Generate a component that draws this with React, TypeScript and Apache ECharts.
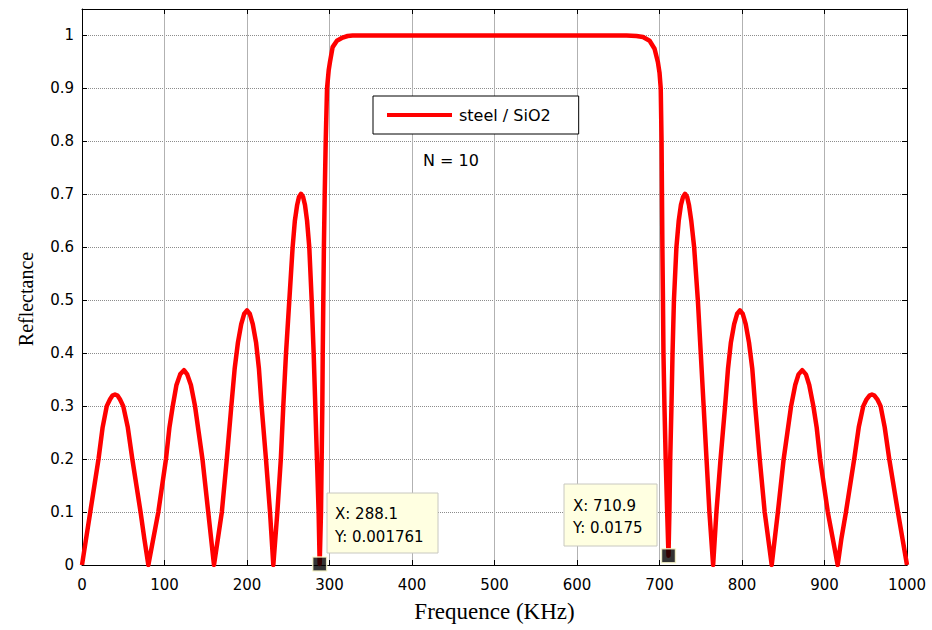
import React, { useEffect, useRef } from "react";
import * as echarts from "echarts";

// Reflectance spectrum of a steel / SiO2 stack, N = 10 periods
const freqKHz = [
  0, 5, 10, 20, 25, 30, 34, 37, 40, 43, 46, 50, 55.5, 61, 71, 75.5, 80.4,
  92.5, 101.8, 106, 110, 114.5, 119, 123.6, 127.5, 132, 137, 141.5, 146, 153, 160,
  169.5, 175.5, 181, 185, 189, 193, 196.5, 200, 203.5, 207, 211, 214.5, 217.7, 223, 227.9, 231.9,
  236.8, 241, 244, 247.3, 251.3, 255.3, 258, 260.8, 263, 265.5, 268, 270.3, 272.8, 275.5, 278.4, 280.8, 282.8, 284.8, 286.8, 288.1,
  289.7, 290.5, 291.3, 291.8, 292.5, 293.2, 294.2, 295.4, 297, 299, 300.6, 303.8, 309, 316, 322, 328,
  400, 500, 600, 660,
  672, 680, 688, 694, 698, 700, 701.5, 702.5, 703, 703.5, 704.2, 704.8, 706, 707.5, 709.3, 710.9,
  712, 713, 714.5, 715.8, 717.5, 720.5, 723.3, 726, 728.5, 731, 733.5, 735.7, 738.5, 742, 746.5, 750, 753.5, 757, 760.5, 765,
  769, 774, 779.5, 783, 786.5, 790.5, 794, 797.5, 801, 804.5, 808.5, 812.5, 816, 821.5, 827.5, 836,
  843.5, 850.5, 855, 859.5, 864.5, 868.5, 873, 877.5, 881.5, 886.5, 890.5, 894.7, 904, 916,
  920.5, 926, 936, 941.5, 947, 951, 954.5, 957.5, 960.5, 964, 968, 973, 978.5, 989, 994.5, 1000,
];

const reflectance = [
  0, 0.05, 0.1, 0.2, 0.26, 0.3, 0.313, 0.32, 0.322, 0.32, 0.313, 0.3, 0.26, 0.2, 0.1, 0.05, 0,
  0.1, 0.2, 0.26, 0.3, 0.34, 0.36, 0.368, 0.36, 0.34, 0.3, 0.25, 0.2, 0.1, 0,
  0.1, 0.2, 0.3, 0.37, 0.42, 0.455, 0.474, 0.481, 0.474, 0.455, 0.42, 0.37, 0.3, 0.2, 0.1, 0,
  0.1, 0.2, 0.3, 0.4, 0.5, 0.6, 0.65, 0.68, 0.695, 0.701, 0.695, 0.68, 0.65, 0.6, 0.5, 0.4, 0.3, 0.2, 0.1, 0.001761,
  0.1, 0.2, 0.3, 0.4, 0.5, 0.6, 0.7, 0.8, 0.9, 0.934, 0.95, 0.978, 0.99, 0.996, 0.999, 1,
  1, 1, 1, 1,
  0.999, 0.997, 0.99, 0.975, 0.95, 0.93, 0.9, 0.8, 0.7, 0.6, 0.5, 0.4, 0.3, 0.2, 0.1, 0.0175,
  0.1, 0.2, 0.3, 0.4, 0.5, 0.6, 0.65, 0.68, 0.695, 0.701, 0.695, 0.68, 0.65, 0.6, 0.5, 0.4, 0.3, 0.2, 0.1, 0,
  0.1, 0.2, 0.3, 0.37, 0.42, 0.455, 0.474, 0.481, 0.474, 0.455, 0.42, 0.37, 0.3, 0.2, 0.1, 0,
  0.1, 0.2, 0.25, 0.3, 0.34, 0.36, 0.368, 0.36, 0.34, 0.3, 0.26, 0.2, 0.1, 0,
  0.05, 0.1, 0.2, 0.26, 0.3, 0.313, 0.32, 0.322, 0.32, 0.313, 0.3, 0.26, 0.2, 0.1, 0.05, 0,
];

// Data cursors placed on the two band-edge minima
const tipFreq = [288.1, 710.9];
const tipRefl = [0.001761, 0.0175];

const seriesName = "steel / SiO2";
const periodsNote = "N = 10";

const X_MIN = 0;
const X_MAX = 1000;
const X_STEP = 100;
const Y_MIN = 0;
const Y_MAX = 1.05;
const Y_STEP = 0.1;

const TICK_FONT = "DejaVu Sans";
const SERIF = "Liberation Serif";

export default function App() {
  const ref = useRef<HTMLDivElement>(null);

  useEffect(() => {
    if (!ref.current) return;
    const chart = echarts.init(ref.current, undefined, { renderer: "svg" });

    const lineData = freqKHz.map((f, i) => [f, reflectance[i]]);
    const tipData = tipFreq.map((f, i) => [f, tipRefl[i]]);

    const tickStyle = { show: true, inside: true, length: 5, lineStyle: { color: "#000", width: 1 } };
    const frameLine = { show: true, onZero: false, lineStyle: { color: "#000", width: 1 } };

    const tipBoxes = [
      { x: 327, y: 493, w: 111, h: 60, tx: 335, ty1: 514, ty2: 537 },
      { x: 564, y: 484, w: 93, h: 62, tx: 573, ty1: 506, ty2: 528 },
    ];

    const graphics: any[] = [];
    tipBoxes.forEach((b, i) => {
      graphics.push({
        type: "rect",
        z: 50,
        shape: { x: b.x, y: b.y, width: b.w, height: b.h },
        style: { fill: "#ffffe1", stroke: "#c8c8c0", lineWidth: 1 },
      });
      graphics.push({
        type: "text",
        z: 51,
        x: b.tx,
        y: b.ty1,
        style: {
          text: `X: ${tipFreq[i]}`,
          font: `15px "${TICK_FONT}"`,
          fill: "#000",
          verticalAlign: "middle",
        },
      });
      graphics.push({
        type: "text",
        z: 51,
        x: b.tx,
        y: b.ty2,
        style: {
          text: `Y: ${tipRefl[i]}`,
          font: `15px "${TICK_FONT}"`,
          fill: "#000",
          verticalAlign: "middle",
        },
      });
    });

    graphics.push({
      type: "text",
      z: 20,
      x: 423,
      y: 160,
      style: {
        text: periodsNote,
        font: `16px "${TICK_FONT}"`,
        fill: "#000",
        verticalAlign: "middle",
      },
    });

    graphics.push({
      type: "text",
      z: 20,
      x: 26,
      y: 299,
      rotation: Math.PI / 2,
      style: {
        text: "Reflectance",
        font: `20px "${SERIF}"`,
        fill: "#000",
        align: "center",
        verticalAlign: "middle",
      },
    });

    chart.setOption({
      animation: false,
      backgroundColor: "#fff",
      grid: { left: 82, right: 25, top: 9, bottom: 65 },
      legend: {
        data: [seriesName],
        left: 373,
        top: 96,
        padding: [11, 28, 11, 14],
        icon: "rect",
        itemWidth: 65,
        itemHeight: 4,
        itemGap: 5,
        borderColor: "#000",
        borderWidth: 1,
        backgroundColor: "#fff",
        textStyle: { fontFamily: TICK_FONT, fontSize: 16, lineHeight: 16, color: "#000", padding: [0, 0, 0, 2] },
        z: 20,
      },
      xAxis: [
        {
          type: "value",
          min: X_MIN,
          max: X_MAX,
          interval: X_STEP,
          position: "bottom",
          axisLine: frameLine,
          axisTick: tickStyle,
          axisLabel: {
            margin: 12,
            fontFamily: TICK_FONT,
            fontSize: 15,
            color: "#000",
            formatter: (v: number) => String(v),
          },
          splitLine: { show: true, lineStyle: { color: "#b2b2b2", width: 1, type: "solid" } },
          name: "Frequence (KHz)",
          nameLocation: "middle",
          nameGap: 35,
          nameTextStyle: { fontFamily: SERIF, fontSize: 23, color: "#000" },
        },
        {
          type: "value",
          min: X_MIN,
          max: X_MAX,
          interval: X_STEP,
          position: "top",
          axisLine: frameLine,
          axisTick: tickStyle,
          axisLabel: { show: false },
          splitLine: { show: false },
        },
      ],
      yAxis: [
        {
          type: "value",
          min: Y_MIN,
          max: Y_MAX,
          interval: Y_STEP,
          position: "left",
          axisLine: frameLine,
          axisTick: tickStyle,
          axisLabel: {
            margin: 8,
            showMaxLabel: false,
            fontFamily: TICK_FONT,
            fontSize: 15,
            color: "#000",
          },
          splitLine: { show: true, lineStyle: { color: "#8c8c8c", width: 1, type: [1, 1] } },
        },
        {
          type: "value",
          min: Y_MIN,
          max: Y_MAX,
          interval: Y_STEP,
          position: "right",
          axisLine: frameLine,
          axisTick: tickStyle,
          axisLabel: { show: false },
          splitLine: { show: false },
        },
      ],
      series: [
        {
          name: seriesName,
          type: "line",
          data: lineData,
          showSymbol: false,
          symbol: "none",
          lineStyle: { color: "#ff0000", width: 4.5, join: "round" },
          itemStyle: { color: "#ff0000" },
          z: 5,
        },
        {
          name: "cursor",
          type: "scatter",
          data: tipData,
          symbol: "rect",
          symbolSize: 14,
          itemStyle: { color: "#000", borderColor: "#fffcd0", borderWidth: 1.5 },
          z: 10,
        },
      ],
      graphic: graphics,
    });

    return () => chart.dispose();
  }, []);

  return (
    <div
      ref={ref}
      style={{ position: "fixed", left: 0, top: 0, width: 932, height: 630, background: "#fff" }}
    />
  );
}
